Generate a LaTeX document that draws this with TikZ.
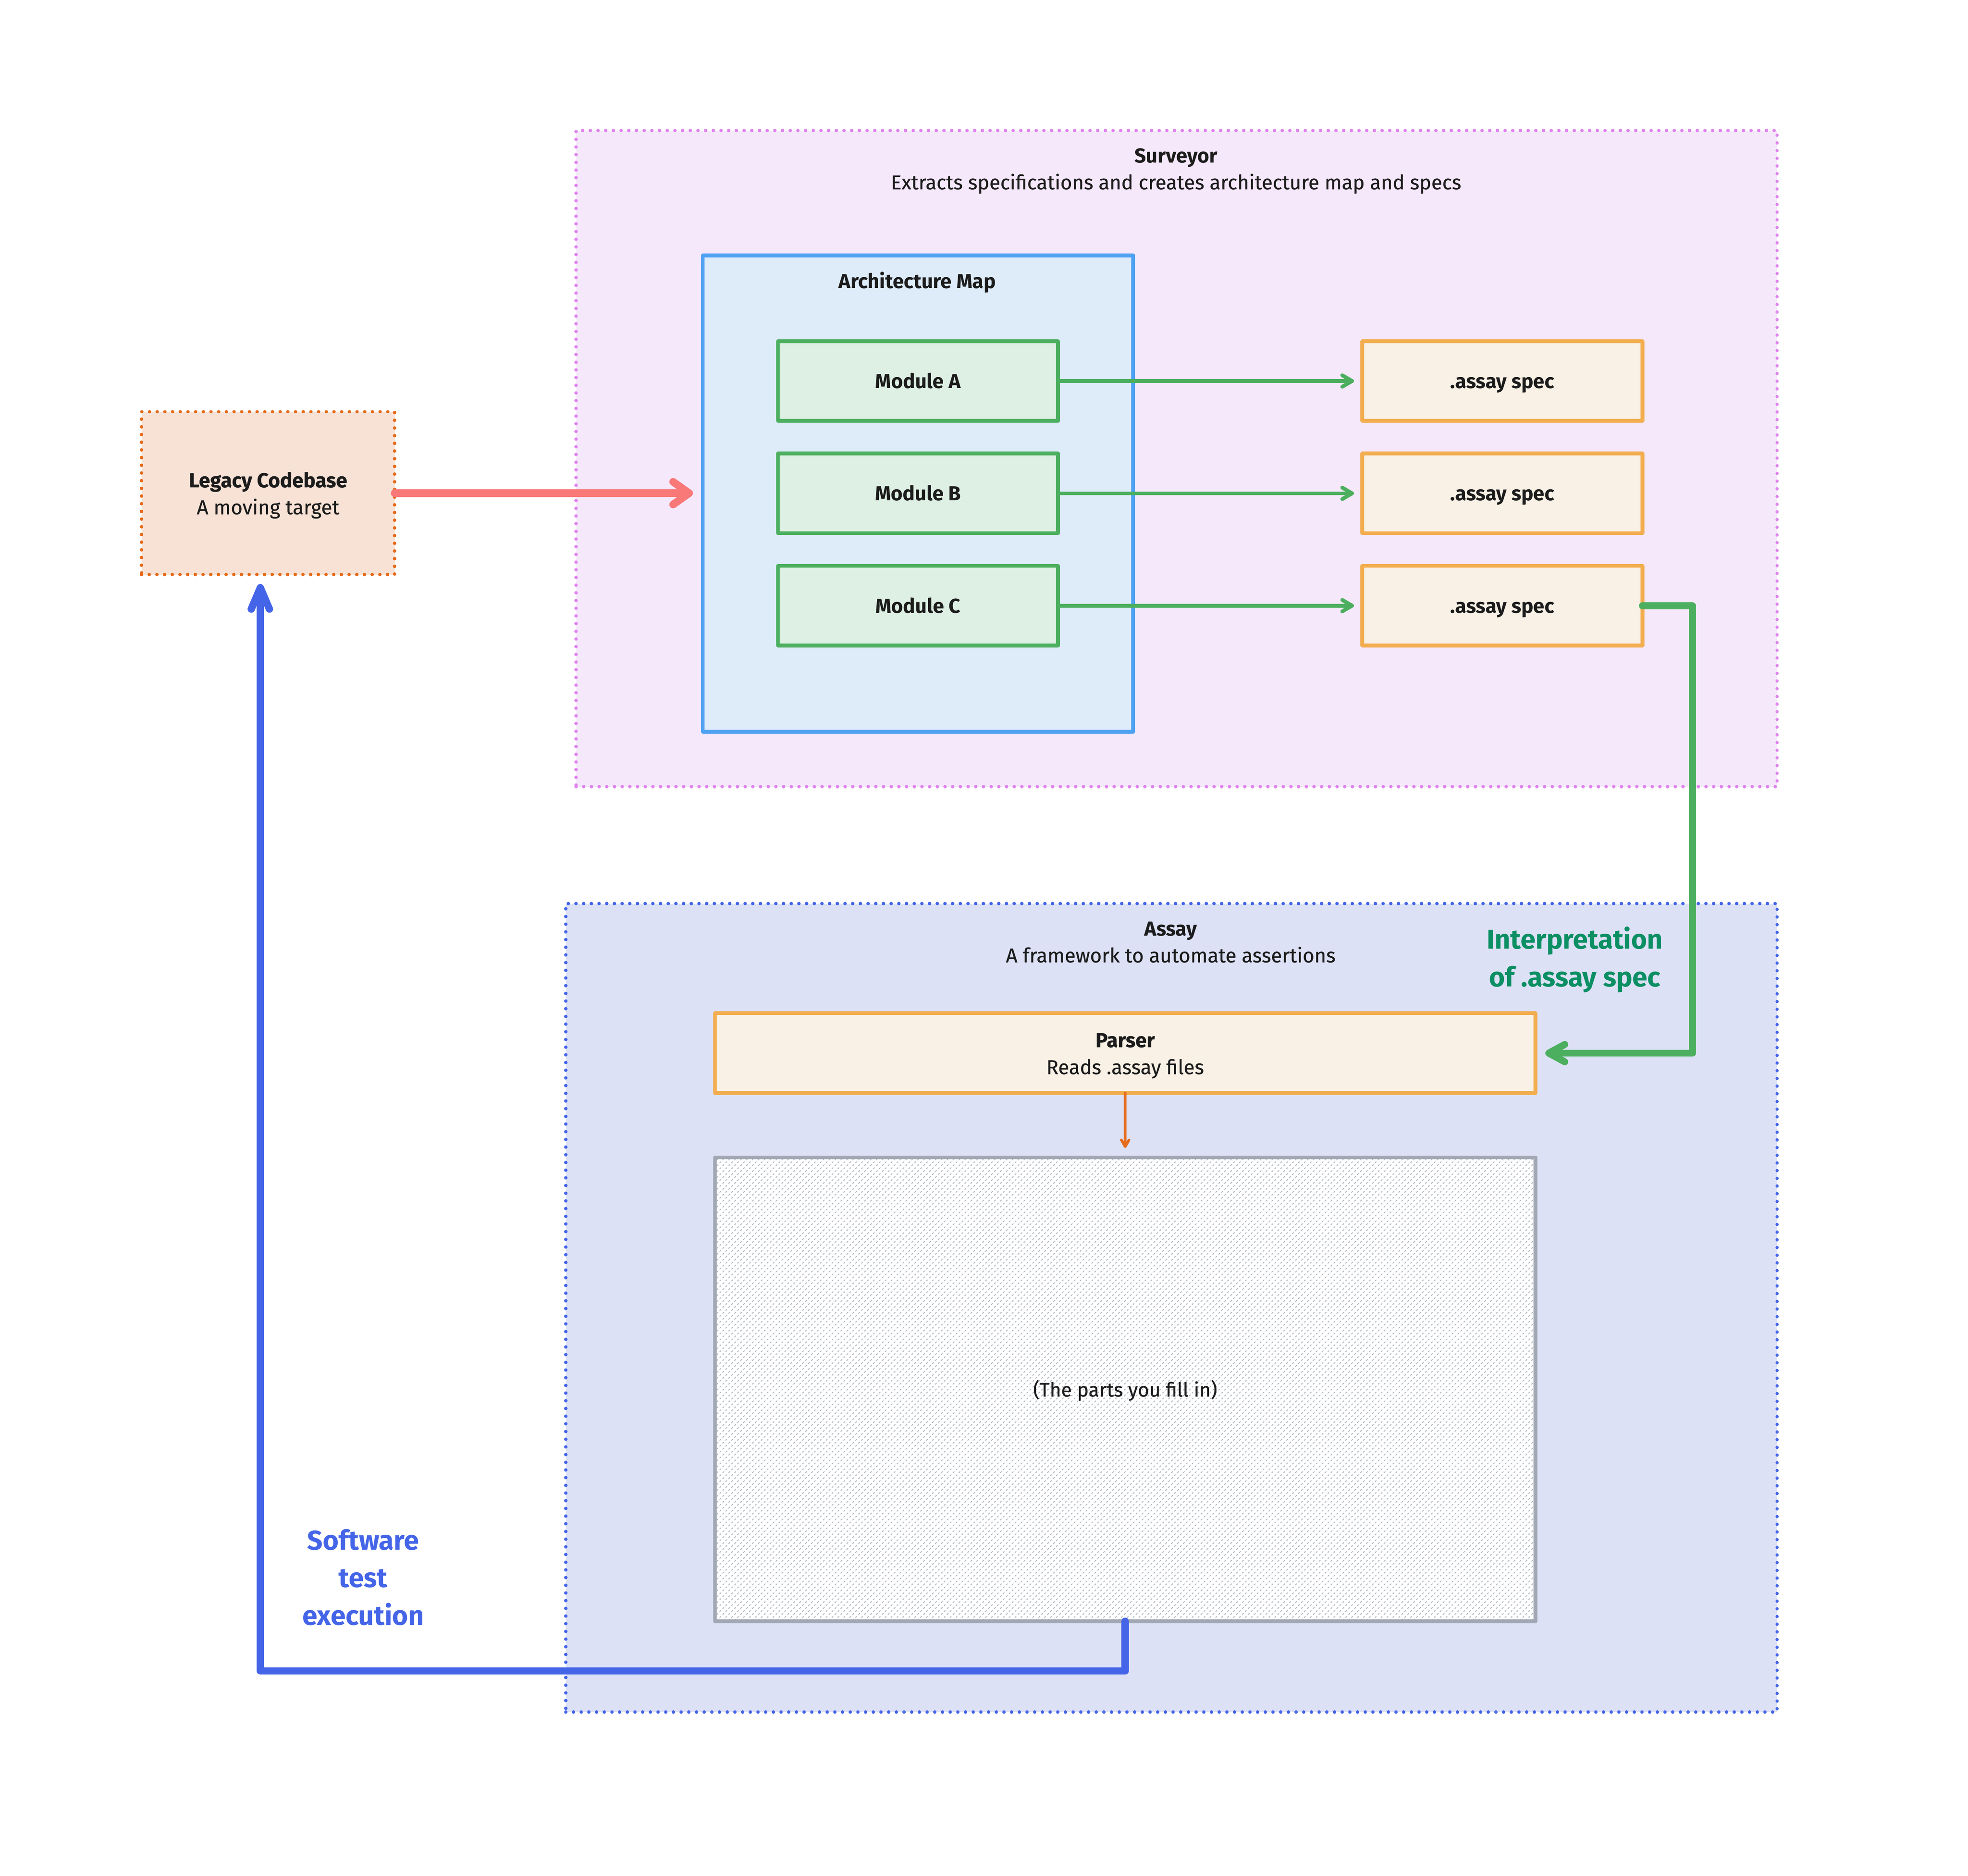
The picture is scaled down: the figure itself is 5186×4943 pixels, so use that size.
\documentclass[tikz,border=0pt]{standalone}
\usepackage{fontspec}
\setmainfont{Fira Sans}
\newfontfamily\medfont[FakeBold=0.5]{Fira Sans}
\usetikzlibrary{arrows.meta,patterns}
\definecolor{inkc}{HTML}{1C1C1C}
\definecolor{pinkb}{HTML}{E083EF}
\definecolor{pinkf}{HTML}{F5E8FA}
\definecolor{archb}{HTML}{4FA1F2}
\definecolor{archf}{HTML}{DEECFA}
\definecolor{modb}{HTML}{4CAF5F}
\definecolor{modf}{HTML}{DDF0E3}
\definecolor{specb}{HTML}{F2AD4E}
\definecolor{specf}{HTML}{F9F1E6}
\definecolor{legb}{HTML}{E56B1B}
\definecolor{legf}{HTML}{F8E2D6}
\definecolor{assb}{HTML}{4565E8}
\definecolor{assf}{HTML}{DDE1F6}
\definecolor{redc}{HTML}{F97878}
\definecolor{grayb}{HTML}{A1A8B3}
\definecolor{hatchc}{HTML}{B5BBC5}
\definecolor{greenl}{HTML}{0B8F63}
\pgfdeclarepatternformonly{hatchdash}{\pgfqpoint{0pt}{0pt}}{\pgfqpoint{4.55pt}{4.55pt}}{\pgfqpoint{4.55pt}{4.55pt}}{%
  \pgfsetlinewidth{0.7pt}\pgfsetroundcap
  \pgfpathmoveto{\pgfqpoint{0.69pt}{0.69pt}}\pgfpathlineto{\pgfqpoint{1.59pt}{1.59pt}}
  \pgfpathmoveto{\pgfqpoint{2.96pt}{2.96pt}}\pgfpathlineto{\pgfqpoint{3.86pt}{3.86pt}}
  \pgfusepath{stroke}}
\newcommand{\bodyfont}{\fontsize{15.05}{20.2}\selectfont\medfont}
\newcommand{\headfont}{\fontsize{15.2}{20.2}\selectfont\bfseries}
\newcommand{\biglabel}{\fontsize{20.4}{28.2}\selectfont\bfseries}
\tikzset{
  x=0.01cm,y=-0.01cm,
  every node/.style={inner sep=0pt,outer sep=0pt,align=center,text=inkc},
  boxsize/.style 2 args={minimum width=#1*0.01cm,minimum height=#2*0.01cm},
  oneline/.style={text height=14pt,text depth=3.2pt},
  solidbox/.style={draw,line width=2.85pt,line join=round},
  dotbox/.style={draw,line width=2.56pt,line cap=round,dash pattern=on 0.01pt off 5.75pt},
  conn/.style={line cap=round,line join=round},
  redarrow/.style={conn,draw=redc,line width=5.7pt,shorten >=26*0.01cm,-{Straight Barb[length=12pt,width=17pt,round]}},
  thinarrow/.style={conn,draw=modb,line width=2.85pt,shorten >=22*0.01cm,-{Straight Barb[length=7.4pt,width=8.6pt,round]}},
  thickgreen/.style={conn,draw=modb,line width=5.2pt,shorten >=26*0.01cm,-{Straight Barb[length=12pt,width=13pt,round]}},
  bluearrow/.style={conn,draw=assb,line width=5.5pt,shorten >=25*0.01cm,-{Straight Barb[length=16pt,width=13.6pt,round]}},
  orangearrow/.style={conn,draw=legb,line width=2pt,shorten >=25*0.01cm,-{Straight Barb[length=5pt,width=5.7pt,round]}},
}
\begin{document}
\begin{tikzpicture}
\useasboundingbox (0,0) rectangle (5186,4943);
\fill[white] (0,0) rectangle (5186,4943);
% containers
\node[dotbox,draw=pinkb,fill=pinkf,boxsize={3165}{1729}] (surveyor) at (3100.5,1208.5) {};
\node[dotbox,draw=assb,fill=assf,boxsize={3192}{2130}] (assay) at (3087,3446) {};
\node[dotbox,draw=legb,fill=legf,boxsize={667}{429}] (legacy) at (706.5,1299.5) {};
\node[font=\bodyfont] (legacyt) at (706.5,1305) {{\headfont Legacy Codebase}\\A moving target};
\node[solidbox,draw=archb,fill=archf,boxsize={1134}{1255}] (arch) at (2419,1300.5) {};
% titles
\node[font=\headfont,oneline] (surveyort) at (3099,410) {Surveyor};
\node[font=\bodyfont,oneline] (surveyors) at (3099,480) {Extracts specifications and creates architecture map and specs};
\node[font=\headfont,oneline] (archt) at (2417,741) {Architecture Map};
\node[font=\headfont,oneline] (assayt) at (3085,2447) {Assay};
\node[font=\bodyfont,oneline] (assays) at (3085,2517) {A framework to automate assertions};
% modules
\foreach \nm/\yy/\tx in {moda/1004/Module A,modb/1300/Module B,modc/1596/Module C}
  \node[solidbox,draw=modb,fill=modf,boxsize={738}{210},font=\headfont,oneline] (\nm) at (2419,\yy) {\tx};
\foreach \nm/\yy in {speca/1004,specb/1300,specc/1596}
  \node[solidbox,draw=specb,fill=specf,boxsize={738}{210},font=\headfont,oneline] (\nm) at (3959,\yy) {.assay spec};
% assay inner
\node[solidbox,draw=specb,fill=specf,boxsize={2162}{210}] (parser) at (2965,2775) {};
\node[font=\bodyfont] (parsert) at (2965,2782) {{\headfont Parser}\\Reads .assay files};
\node[solidbox,draw=grayb,preaction={fill=white},pattern=hatchdash,pattern color=hatchc,boxsize={2162}{1222},font=\fontsize{14.7}{20.2}\selectfont\medfont,oneline] (place) at (2965,3661) {(The parts you fill in)};
% labels
\node[font=\biglabel,text=greenl] (interp) at (4150,2529) {Interpretation\\of .assay spec};
\node[font=\biglabel,text=assb] (softw) at (957,4156) {Software\\test\\execution};
% connectors
\draw[redarrow] (legacy.east) -- (legacy.east -| arch.west);
\draw[thinarrow] (moda.east) -- (speca.west);
\draw[thinarrow] (modb.east) -- (specb.west);
\draw[thinarrow] (modc.east) -- (specc.west);
\coordinate (gone) at (4460,1596);
\coordinate (gtwo) at (4460,2775);
\draw[thickgreen] (specc.east) -- (gone) -- (gtwo) -- (parser.east);
\draw[orangearrow] (parser.south) -- (place.north);
\coordinate (bone) at (2965,4403);
\coordinate (btwo) at (686,4403);
\coordinate (bthree) at (686,1514);
\draw[bluearrow] (place.south) -- (bone) -- (btwo) -- (bthree);
\end{tikzpicture}
\end{document}
